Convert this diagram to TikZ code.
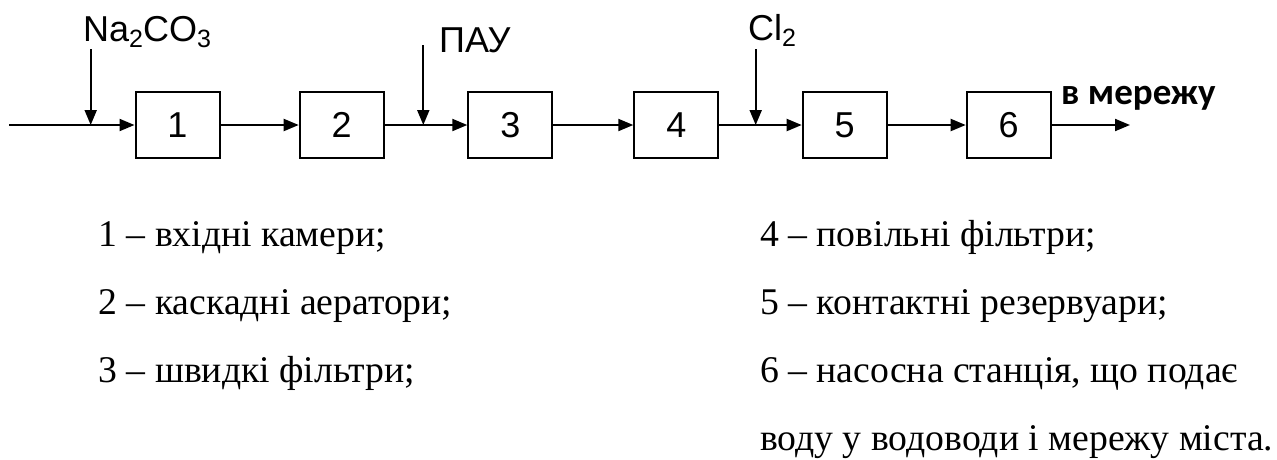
\documentclass[tikz,border=0pt]{standalone}
\usepackage{fontspec}
\setmainfont{Liberation Serif}
\newfontfamily\arialf{Liberation Sans}
\newfontfamily\calf{Carlito}
\usetikzlibrary{arrows.meta}
\newcommand\lsub[1]{\raisebox{-6pt}{\fontsize{25}{25}\selectfont #1}}
\tikzset{
  blk/.style={draw, line width=2pt, minimum width=84pt, minimum height=66pt, inner sep=0pt, font=\arialf\fontsize{36}{36}\selectfont},
  arr/.style={line width=2pt, -{Triangle[length=15pt,width=12pt]}},
  lbl/.style={anchor=base west, inner sep=0pt, font=\arialf\fontsize{36}{36}\selectfont},
  leg/.style={anchor=base west, inner sep=0pt, font=\fontsize{37.7}{37.7}\selectfont},
  outl/.style={anchor=base west, inner sep=0pt, font=\calf\bfseries\fontsize{37}{37}\selectfont}
}
\begin{document}
\begin{tikzpicture}[x=1pt,y=-1pt]
\useasboundingbox (0,0) rectangle (1277,459);
% boxes
\node[blk] (b1) at (177.5,125) {1};
\node[blk] (b2) at (341.7,125) {2};
\node[blk] (b3) at (510.3,125) {3};
\node[blk] (b4) at (676.3,125) {4};
\node[blk] (b5) at (844.7,125) {5};
\node[blk] (b6) at (1008.7,125) {6};
% coordinates
\coordinate (in) at (9,125);
\coordinate (out) at (1130,125);
\coordinate (j1) at (90.7,125);
\coordinate (j2) at (423.3,125);
\coordinate (j3) at (755.7,125);
\coordinate (s1) at (90.7,49);
\coordinate (s2) at (423.3,45);
\coordinate (s3) at (755.7,49);
% labels
\node[lbl] (na) at (83,41) {Na\lsub{2}CO\lsub{3}};
\node[lbl] (pau) at (439,52.7) {ПАУ};
\node[lbl] (cl) at (748,40.7) {Cl\lsub{2}};
\node[outl] (vm) at (1061,104) {в мережу};
% main flow
\draw[arr] (in) -- (b1);
\draw[arr] (b1) -- (b2);
\draw[arr] (b2) -- (b3);
\draw[arr] (b3) -- (b4);
\draw[arr] (b4) -- (b5);
\draw[arr] (b5) -- (b6);
\draw[arr] (b6) -- (out);
% injections
\draw[arr] (s1) -- (j1);
\draw[arr] (s2) -- (j2);
\draw[arr] (s3) -- (j3);
% legend
\node[leg] (l1) at (98.3,246) {1 – вхідні камери;};
\node[leg] (l2) at (98.3,314) {2 – каскадні аератори;};
\node[leg] (l3) at (98.3,382) {3 – швидкі фільтри;};
\node[leg] (l4) at (760,246) {4 – повільні фільтри;};
\node[leg] (l5) at (760,314) {5 – контактні резервуари;};
\node[leg] (l6) at (760,382) {6 – насосна станція, що подає};
\node[leg] (l7) at (760,450) {воду у водоводи і мережу міста.};
\end{tikzpicture}
\end{document}
